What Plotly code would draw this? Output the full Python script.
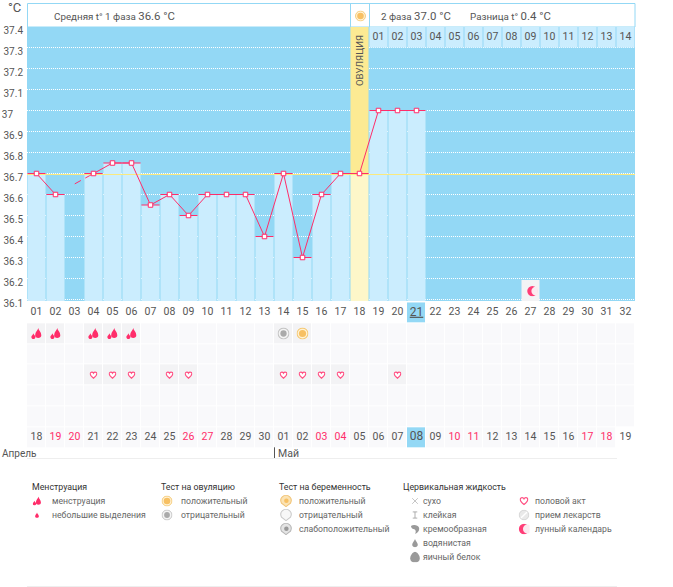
import base64
import plotly.graph_objects as go

W, H = 673, 587
FONT = "Roboto, Noto Sans, sans-serif"
TXT = "#555555"
RED = "#ff2d6a"
BG = "#93d8f5"
PALE = "#cbedfe"

# ---- data
days = list(range(1, 33))
temps = [36.7, 36.6, None, 36.7, 36.75, 36.75, 36.55, 36.6, 36.5, 36.6, 36.6, 36.6, 36.4, 36.7,
         36.3, 36.6, 36.7, 36.7, 37.0, 37.0, 37.0] + [None] * 11
missing_x = [2, 4]
missing_y = [36.6, 36.7]
mean_temp = 36.6952
y_ticks = [37.4, 37.3, 37.2, 37.1, 37.0, 36.9, 36.8, 36.7, 36.6, 36.5, 36.4, 36.3, 36.2, 36.1]
y_labels = ["37.4", "37.3", "37.2", "37.1", "37", "36.9", "36.8", "36.7", "36.6", "36.5", "36.4", "36.3", "36.2", "36.1"]
ov_day = 18
phase2_days = list(range(19, 33))
phase2_labels = ["01", "02", "03", "04", "05", "06", "07", "08", "09", "10", "11", "12", "13", "14"]
day_labels = ["%02d" % d for d in days]
date_labels = ["18", "19", "20", "21", "22", "23", "24", "25", "26", "27", "28", "29", "30", "01", "02", "03",
               "04", "05", "06", "07", "08", "09", "10", "11", "12", "13", "14", "15", "16", "17", "18", "19"]
weekend_days = [2, 3, 9, 10, 16, 17, 23, 24, 30, 31]  # cycle days with a red date
today = 21
menses_days = [1, 2, 4, 5, 6]
ov_neg_days = [14]
ov_pos_days = [15]
heart_days = [4, 5, 6, 8, 9, 14, 15, 16, 17, 20]
moon_days = [27]
ROW_DAY, ROW_TEST, ROW_SEX, ROW_DATE = 0, 1, 3, 6
Y_RANGE = [36.0929, 37.4024]
CHART_TOP = 37.3976


def svg(body):
    s = '<svg xmlns="http://www.w3.org/2000/svg" viewBox="0 0 16 16">' + body + "</svg>"
    return "data:image/svg+xml;base64," + base64.b64encode(s.encode()).decode()


GR = "#9a9a9a"
ICONS = {
    "menses": svg('<path fill="%s" d="M10.5 0C11 3.5 15 6 15 10.5C15 13 13 14.5 10.5 14.5C8 14.5 6 13 6 10.5C6 6 10 3.5 10.5 0Z"/>'
                  '<path fill="%s" d="M3.5 7.5C3.8 9.5 6.5 11 6.5 13C6.5 14.8 5 16 3.5 16C2 16 .5 14.8 .5 13C.5 11 3.2 9.5 3.5 7.5Z"/>' % (RED, RED)),
    "spot": svg('<path fill="%s" d="M8 1C8.5 4 13 7.5 13 11C13 13.8 10.7 15.5 8 15.5C5.3 15.5 3 13.8 3 11C3 7.5 7.5 4 8 1Z"/>' % RED),
    "heart": svg('<path fill="#fff" stroke="#ff4f82" stroke-width="2.2" d="M8 14.2C3 10.5 1.3 8 1.3 5.5C1.3 3.2 3 2 4.7 2C6.2 2 7.4 2.9 8 4.2C8.6 2.9 9.8 2 11.3 2C13 2 14.7 3.2 14.7 5.5C14.7 8 13 10.5 8 14.2Z"/>'),
    "sun": svg('<circle cx="8" cy="8" r="7.2" fill="#fff3d6" stroke="#f5c975" stroke-width="1.4"/><circle cx="8" cy="8" r="4.8" fill="#f7c063"/>'),
    "grey": svg('<circle cx="8" cy="8" r="7.2" fill="#f4f4f4" stroke="#c4c4c4" stroke-width="1.4"/><circle cx="8" cy="8" r="4.2" fill="#aaa"/>'),
    "moon": svg('<circle cx="8" cy="8" r="7.5" fill="#ff3d77"/><circle cx="13" cy="8" r="6.5" fill="#fbeaf0"/>'),
    "preg_pos": svg('<path fill="#fbe3b4" stroke="#f0c274" stroke-width="1.4" d="M8 15.4L2 11C.6 8 .6 4.5 3 2.4C5.8.2 10.2.2 13 2.4C15.4 4.5 15.4 8 14 11Z"/><circle cx="8.5" cy="7.5" r="3" fill="#f7c063"/>'),
    "preg_neg": svg('<path fill="#f7f7f7" stroke="#c8c8c8" stroke-width="1.4" d="M8 15.4L2 11C.6 8 .6 4.5 3 2.4C5.8.2 10.2.2 13 2.4C15.4 4.5 15.4 8 14 11Z"/>'),
    "preg_weak": svg('<path fill="#e4e4e4" stroke="#b5b5b5" stroke-width="1.4" d="M8 15.4L2 11C.6 8 .6 4.5 3 2.4C5.8.2 10.2.2 13 2.4C15.4 4.5 15.4 8 14 11Z"/><circle cx="8.5" cy="7.5" r="3" fill="#999"/>'),
    "dry": svg('<path stroke="%s" stroke-width="1" fill="none" d="M3 3L13 13M13 3L3 13"/>' % GR),
    "sticky": svg('<path stroke="%s" stroke-width="1.4" fill="none" d="M4 2.5H12M8 2.5V13.5M4 13.5H12"/>' % GR),
    "creamy": svg('<path fill="%s" d="M1.5 3C5 .5 13 1 14.5 6C15.5 10 12.5 15 8 15.5C10 13 9.5 10 7 8.5C4.5 7.5 2 7 1.5 3Z"/>' % GR),
    "watery": svg('<path fill="%s" d="M8 1C8.5 4 13 7.5 13 11C13 13.8 10.7 15.5 8 15.5C5.3 15.5 3 13.8 3 11C3 7.5 7.5 4 8 1Z"/>' % GR),
    "egg": svg('<path fill="%s" d="M8 .5C11 .5 15 6 15 10C15 13.5 12 15.8 8 15.8C4 15.8 1 13.5 1 10C1 6 5 .5 8 .5Z"/>' % GR),
    "pill": svg('<circle cx="8" cy="8" r="7" fill="#e9e9e9" stroke="#c9c9c9"/><path stroke="#fff" stroke-width="2" d="M3.5 12.5L12.5 3.5"/>'),
}

px = lambda v: v / W
py = lambda v: 1 - v / H

fig = go.Figure()

# grey cells below the chart
z = []
for r in range(7):
    row = []
    for d in days:
        if r == ROW_DAY:
            row.append(2 if d == today else None)
        elif r == ROW_DATE:
            row.append(2 if d == today else (None if d == 32 else 0))
        elif (r == ROW_TEST and d in menses_days + ov_neg_days + ov_pos_days) or (r == ROW_SEX and d in heart_days):
            row.append(1)
        else:
            row.append(0)
    z.append(row)
fig.add_trace(go.Heatmap(x=days, y=list(range(7)), z=z, xaxis="x", yaxis="y2", showscale=False, hoverinfo="skip",
                         xgap=1, ygap=1, zmin=0, zmax=2,
                         colorscale=[[0, "#f9f9fb"], [0.5, "#f3f3f5"], [0.5001, BG], [1, BG]]))

# temperature columns
fig.add_trace(go.Bar(x=days, y=temps, width=18 / 19, hoverinfo="skip",
                     marker=dict(color=["#fdf7c9" if d == ov_day else PALE for d in days], line_width=0)))
fig.add_trace(go.Bar(x=[ov_day], y=[CHART_TOP - temps[ov_day - 1]], width=18 / 19, base=[temps[ov_day - 1]],
                     hoverinfo="skip", marker=dict(color="#fcea93", line_width=0)))
fig.add_trace(go.Bar(x=phase2_days, y=[CHART_TOP - 37.3] * len(phase2_days), base=[37.3] * len(phase2_days), width=18 / 19,
                     hoverinfo="skip", marker=dict(color=PALE, line_width=0)))
fig.add_trace(go.Bar(x=moon_days, y=[0.1], base=[Y_RANGE[0]], width=18 / 19, hoverinfo="skip",
                     marker=dict(color="#f3f3f5", line_width=0)))
fig.add_trace(go.Scatter(x=phase2_days, y=[37.35] * len(phase2_days), text=phase2_labels, mode="text",
                         textfont=dict(family=FONT, size=10.5, color=TXT), hoverinfo="skip"))

# mean line
fig.add_trace(go.Scatter(x=[0.5, 32.5], y=[mean_temp, mean_temp], mode="lines",
                         line=dict(color="#fbe97d", width=1), hoverinfo="skip"))
# temperature line
fig.add_trace(go.Scatter(x=missing_x, y=missing_y, mode="lines", hoverinfo="skip",
                         line=dict(color=RED, width=1, dash="0px,22px,7px,5px,5px")))
fig.add_trace(go.Scatter(x=days[3:21], y=temps[3:21], mode="lines", line=dict(color=RED, width=1), hoverinfo="skip"))
fig.add_trace(go.Scatter(x=days[:2], y=temps[:2], mode="lines", line=dict(color=RED, width=1), hoverinfo="skip"))
# bar caps, then the point markers
fig.add_trace(go.Scatter(x=days, y=temps, mode="markers", hoverinfo="skip",
                         marker=dict(symbol="line-ew", size=13, color=RED, line=dict(color=RED, width=1))))
fig.add_trace(go.Scatter(x=days, y=temps, mode="markers", hoverinfo="skip",
                         marker=dict(symbol="square", size=4.5, color="white", line=dict(color=RED, width=1))))

# day numbers and dates
day_text = [('<span style="text-decoration:underline">%s</span>' % t) if d == today else t
            for d, t in zip(days, day_labels)]
fig.add_trace(go.Scatter(x=days, y=[ROW_DAY] * 32, text=day_text, mode="text", xaxis="x", yaxis="y2", hoverinfo="skip",
                         textfont=dict(family=FONT, size=[12 if d == today else 10.5 for d in days], color=TXT)))
fig.add_trace(go.Scatter(x=days, y=[ROW_DATE] * 32, text=date_labels, mode="text", xaxis="x", yaxis="y2", hoverinfo="skip",
                         textfont=dict(family=FONT, size=[12 if d == today else 10.5 for d in days],
                                       color=[RED if d in weekend_days else TXT for d in days])))

images = []


def data_icon(name, d, row, size):
    images.append(dict(source=ICONS[name], xref="x", yref="y2", x=d, y=row, sizex=size / 19, sizey=size / 20.8,
                       xanchor="center", yanchor="middle", sizing="contain", layer="above"))


def page_icon(name, x, y, size):
    images.append(dict(source=ICONS[name], xref="paper", yref="paper", x=px(x), y=py(y), sizex=size / W, sizey=size / H,
                       xanchor="center", yanchor="middle", sizing="contain", layer="above"))


for d in menses_days:
    data_icon("menses", d, ROW_TEST, 11)
for d in ov_neg_days:
    data_icon("grey", d, ROW_TEST, 12)
for d in ov_pos_days:
    data_icon("sun", d, ROW_TEST, 12)
for d in heart_days:
    data_icon("heart", d, ROW_SEX, 8)
for d in moon_days:
    images.append(dict(source=ICONS["moon"], xref="x", yref="y", x=d + 0.1, y=36.14, sizex=11 / 19, sizey=11 / 210,
                       xanchor="center", yanchor="middle", sizing="contain", layer="above"))
page_icon("sun", 360.5, 16, 11)

annos = []


def label(x, y, text, size=10, color=TXT, anchor="left", angle=0, vanchor="middle"):
    annos.append(dict(xref="paper", yref="paper", x=px(x), y=py(y), text=text, showarrow=False, xanchor=anchor,
                      yanchor=vanchor, align="left", textangle=angle, borderpad=0, borderwidth=0,
                      font=dict(family=FONT, size=size, color=color)))


big = lambda t: '<span style="font-size:11.4px">%s</span>' % t
label(8, 7, "°C", 13)
label(54, 16, "Средняя t° 1 фаза " + big("36.6 °C"), 9.8)
label(381, 16, "2 фаза " + big("37.0 °C"), 9.8)
label(470, 16, "Разница t° " + big("0.4 °C"), 9.8)
label(360, 61, "ОВУЛЯЦИЯ", 9.6, anchor="center", angle=-90)
label(2, 453, "Апрель", 10)
label(278, 453, "Май", 10.5)

HEAD = "#333333"
for x, t in [(32, "Менструация"), (161, "Тест на овуляцию"), (279, "Тест на беременность"), (403, "Цервикальная жидкость")]:
    label(x, 487, t, 8.8, HEAD)

legend_rows = [
    (52, 37, 501, "menses", 9, "менструация"),
    (52, 37, 515, "spot", 6, "небольшие выделения"),
    (181, 167, 501, "sun", 11, "положительный"),
    (181, 167, 515, "grey", 11, "отрицательный"),
    (299, 286, 501, "preg_pos", 12, "положительный"),
    (299, 286, 515, "preg_neg", 12, "отрицательный"),
    (299, 286, 529, "preg_weak", 12, "слабоположительный"),
    (423, 415, 501, "dry", 9, "сухо"),
    (423, 415, 515, "sticky", 9, "клейкая"),
    (423, 415, 529, "creamy", 10, "кремообразная"),
    (423, 415, 543, "watery", 9, "водянистая"),
    (423, 415, 557, "egg", 11, "яичный белок"),
    (535, 524, 501, "heart", 9, "половой акт"),
    (535, 524, 515, "pill", 11, "прием лекарств"),
    (535, 524, 529, "moon", 11, "лунный календарь"),
]
for tx, ix, y, icon, size, t in legend_rows:
    page_icon(icon, ix, y, size)
    label(tx, y, t, 8.7, "#666666")

paper_line = dict(type="line", xref="paper", yref="paper", layer="below")
shapes = [
    # chart background, under the gridlines
    dict(type="rect", xref="x", yref="y", layer="below", x0=0.5, x1=32.5, y0=Y_RANGE[0], y1=CHART_TOP,
         line_width=0, fillcolor=BG),
    dict(type="rect", xref="paper", yref="paper", layer="below", x0=px(27.5), x1=px(635), y0=py(3.5), y1=py(27),
         line=dict(color=BG, width=1), fillcolor="white"),
    dict(paper_line, x0=px(350.5), x1=px(350.5), y0=py(3.5), y1=py(27), line=dict(color=BG, width=1)),
    dict(paper_line, x0=px(369.5), x1=px(369.5), y0=py(3.5), y1=py(27), line=dict(color=BG, width=1)),
    dict(paper_line, x0=px(274.5), x1=px(274.5), y0=py(429), y1=py(458), line=dict(color="#555555", width=1)),
    dict(paper_line, x0=px(27), x1=px(617), y0=py(458.5), y1=py(458.5), line=dict(color="#eeeeee", width=1)),
    dict(paper_line, x0=px(27), x1=px(617), y0=py(586.5), y1=py(586.5), line=dict(color="#eeeeee", width=1)),
]

fig.update_layout(
    width=W, height=H, margin=dict(l=0, r=0, t=0, b=0, pad=0, autoexpand=False), autosize=False,
    paper_bgcolor="white", plot_bgcolor="rgba(0,0,0,0)", showlegend=False, barmode="overlay",
    font=dict(family=FONT, color=TXT),
    annotations=annos, shapes=shapes, images=images,
    xaxis=dict(domain=[px(27), px(635)], range=[0.5, 32.5], visible=False, fixedrange=True),
    yaxis=dict(domain=[py(301), py(26)], range=Y_RANGE, tickmode="array", tickvals=y_ticks,
               ticktext=[t if len(t) > 2 else t + "\u00a0\u00a0\u00a0\u00a0" for t in y_labels],
               showgrid=True, gridcolor="white", griddash="1px,1px", gridwidth=1, zeroline=False, showline=False,
               ticks="", ticklabelstandoff=3, ticklabelshift=4, fixedrange=True,
               tickfont=dict(family=FONT, size=10, color=TXT)),
    yaxis2=dict(domain=[py(447.9), py(302.3)], range=[6.5, -0.5], visible=False, fixedrange=True),
)

fig.write_html("out.html", post_script="document.body.style.margin='0';", config=dict(displayModeBar=False))
